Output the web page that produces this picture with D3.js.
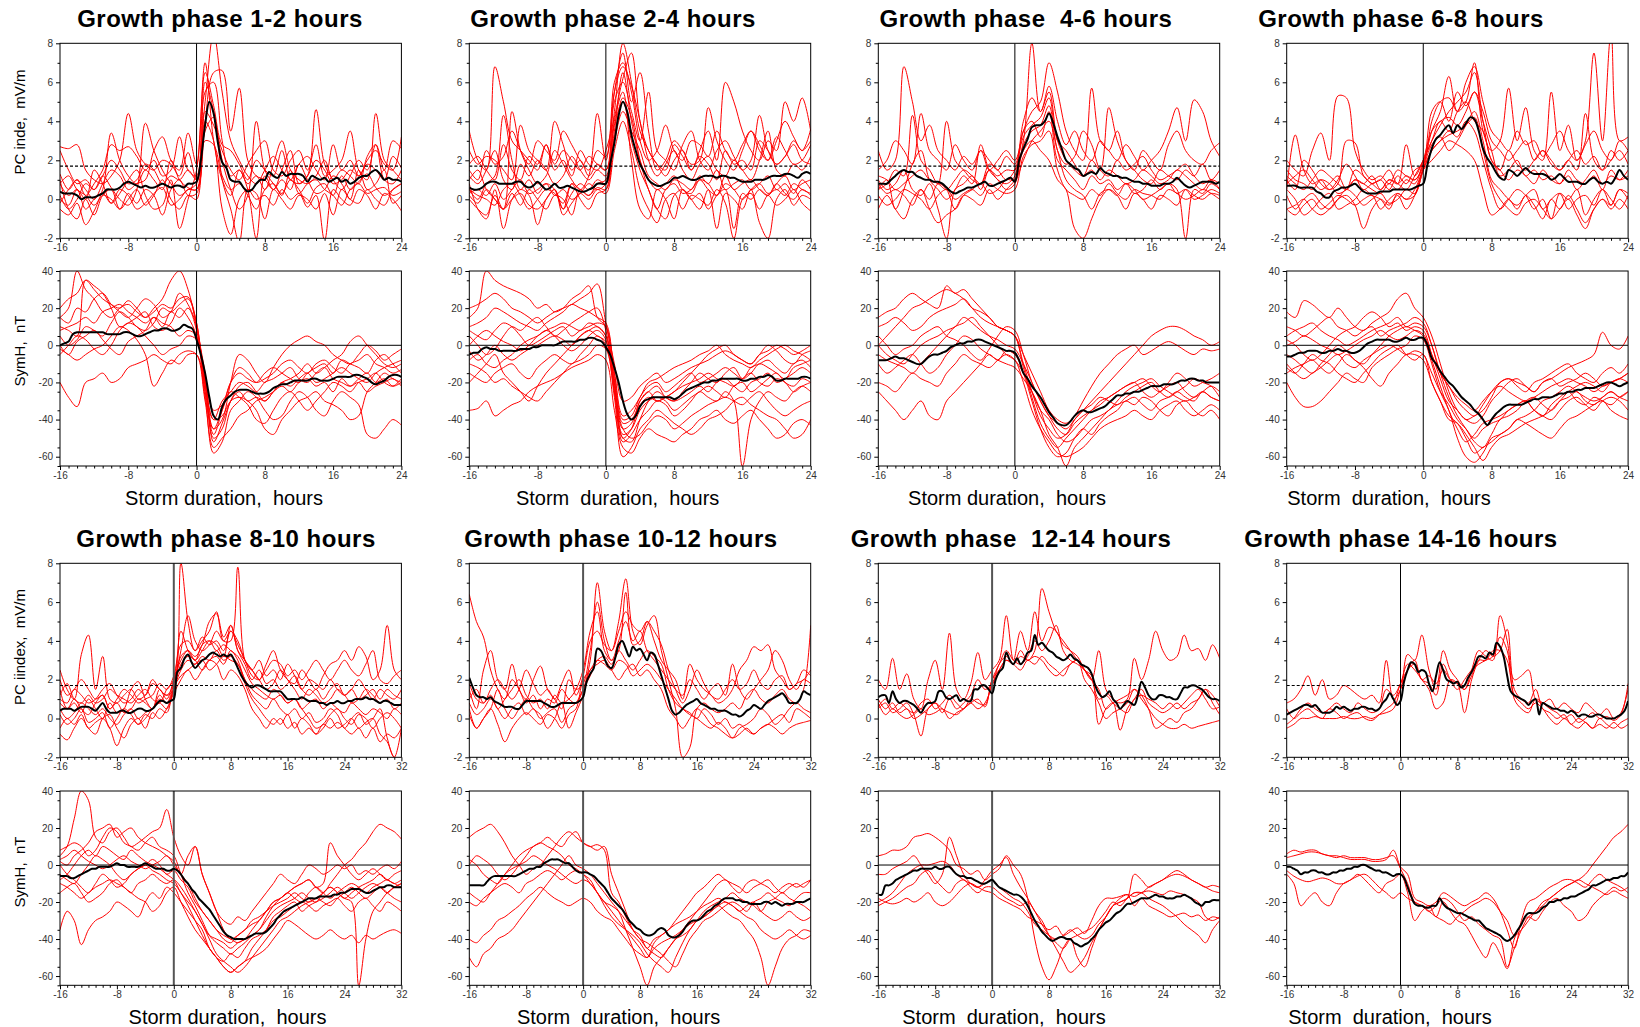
<!DOCTYPE html>
<html>
<head>
<meta charset="utf-8">
<script src="https://cdn.jsdelivr.net/npm/d3@7"></script>
<style>
  html, body { margin: 0; padding: 0; background: #fff; }
  svg { display: block; font-family: "Liberation Sans", Arial, sans-serif; }
</style>
</head>
<body>
<svg id="chart" width="1640" height="1027"></svg>
<script>
// ---------- axis ranges, ticks and labels ----------
const hoursShort = [-16, 24];
const hoursLong = [-16, 32];
const xTicksShort = [-16, -8, 0, 8, 16, 24];
const xTicksLong = [-16, -8, 0, 8, 16, 24, 32];
const pcDomain = [-2, 8];
const pcTicks = [-2, 0, 2, 4, 6, 8];
const symDomain = [-65, 40];
const symTicks = [-60, -40, -20, 0, 20, 40];
const pcThreshold = 1.7;

const titles = [
  "Growth phase 1-2 hours", "Growth phase 2-4 hours", "Growth phase  4-6 hours", "Growth phase 6-8 hours",
  "Growth phase 8-10 hours", "Growth phase 10-12 hours", "Growth phase  12-14 hours", "Growth phase 14-16 hours"
];
const xAxisTitles = [
  "Storm duration,  hours", "Storm  duration,  hours", "Storm duration,  hours", "Storm  duration,  hours",
  "Storm duration,  hours", "Storm  duration,  hours", "Storm  duration,  hours", "Storm  duration,  hours"
];
const pcAxisTitles = ["PC inde,  mV/m", "PC iindex,  mV/m"];
const symAxisTitle = "SymH,  nT";

// ---------- growth phase 1-2 h (hourly runs, half-hourly mean) ----------
const pcRuns1 = [
  [2.7,2.6,2.8,1.5,1.0,0.8,1.2,2.0,4.4,2.5,1.8,1.5,2.0,1.8,1.2,2.4,1.0,5.0,8.5,5.5,3.0,2.0,1.2,0.8,1.5,2.2,1.5,1.0,0.8,1.2,2.0,1.5,0.8,1.0,1.5,1.2,2.0,2.5,1.8,1.5,3.2],
  [0.8,1.2,0.5,0.2,-0.3,0.5,3.4,2.0,1.2,0.8,1.5,1.0,0.5,2.0,1.0,0.6,0.5,4.0,6.5,6.6,3.5,5.7,2.0,1.2,1.0,0.5,1.5,2.5,0.8,1.2,4.6,1.8,1.0,0.5,1.2,2.0,1.5,2.8,1.0,0.8,1.5],
  [0.2,-0.5,0.0,0.8,0.5,1.2,0.6,0.0,-0.3,0.5,3.9,2.5,1.5,0.8,0.2,0.5,0.8,6.0,4.5,2.0,0.5,-0.5,0.2,4.0,1.5,0.8,0.3,1.0,0.5,-0.2,0.6,0.8,0.2,1.2,0.5,0.9,1.3,0.6,0.2,0.5,0.8],
  [-0.5,-0.8,-0.2,-1.3,-0.6,0.2,0.0,-0.5,0.3,-0.2,0.5,0.2,-0.8,0.5,1.0,0.2,0.3,3.5,4.2,1.0,-0.5,-2.2,0.5,0.0,0.2,-0.3,0.5,0.0,0.3,-0.4,0.2,-2.1,0.5,0.0,-0.3,0.5,0.2,-0.5,0.3,0.0,-0.6],
  [1.3,0.5,1.0,0.2,0.8,1.5,2.8,2.5,2.7,2.2,1.5,2.0,1.2,1.5,3.2,1.5,1.2,4.5,3.8,2.5,1.5,1.0,1.8,2.5,3.0,1.5,1.2,2.0,2.5,1.5,2.8,1.2,1.5,2.0,3.5,1.5,1.0,4.4,2.0,1.5,1.0],
  [0.0,-0.3,0.5,-0.5,0.0,0.3,-0.2,0.5,0.2,-0.5,-0.2,0.3,0.6,-0.3,0.0,0.5,0.5,3.0,2.8,1.2,0.5,0.8,0.2,-0.5,0.5,0.8,0.2,1.5,0.3,0.8,1.0,0.5,0.2,-0.3,0.5,0.8,0.3,0.5,0.6,0.2,0.4],
  [0.8,0.2,0.5,0.0,1.5,0.8,-0.2,0.3,1.0,1.5,0.2,-0.5,-0.3,1.0,-1.5,0.0,1.5,7.0,3.0,1.0,0.2,1.5,0.5,-2.0,1.2,0.5,1.0,0.5,1.8,1.0,0.3,0.5,1.2,0.8,0.0,1.5,0.5,0.8,1.5,-0.2,0.2],
  [-0.2,0.5,1.0,0.5,0.0,0.8,1.5,1.2,0.5,0.8,1.0,2.5,3.2,2.0,1.5,3.4,1.8,6.5,4.8,2.8,2.5,1.8,1.0,2.0,1.5,1.2,2.5,1.0,1.8,2.2,1.5,1.0,2.8,1.5,2.0,1.2,1.8,1.5,1.0,2.2,1.6],
  [1.0,-0.5,-1.0,0.0,-0.8,0.2,0.5,-0.5,0.0,0.5,-0.3,0.2,1.0,0.0,-0.5,0.2,0.0,4.0,3.0,-0.5,-1.8,0.0,0.5,0.3,-1.0,0.5,0.0,-0.5,0.2,0.0,-0.5,0.3,-0.8,0.5,0.0,-0.2,0.5,0.0,-0.3,0.5,0.8],
  [2.5,1.5,0.8,1.0,0.5,1.2,2.0,1.5,0.8,1.0,1.8,1.5,0.8,1.2,1.0,1.5,1.0,5.5,6.0,3.0,1.2,1.5,0.8,1.2,0.5,1.8,3.0,1.5,1.0,0.8,1.2,2.0,1.0,1.5,1.2,0.8,2.2,2.8,1.5,3.0,2.6]
];
const pcMean1 = [0.4,0.3,0.3,0.3,0.2,0.0,0.1,0.1,0.1,0.2, 0.3,0.5,0.5,0.5,0.6,0.8,0.9,0.8,0.7,0.6, 0.7,0.6,0.6,0.7,0.8,0.7,0.6,0.7,0.7,0.6,
  0.8,0.8,0.9,2.0,3.8,5.0,4.4,2.9,1.9,1.6, 1.0,0.9,0.9,0.6,0.4,0.5,0.8,1.0,1.0,1.4, 1.2,1.1,1.4,1.2,1.3,1.3,1.3,1.2,0.9,1.2,
  1.1,1.0,1.1,0.9,1.0,1.1,0.9,1.0,0.8,0.9, 1.1,1.2,1.2,1.4,1.5,1.3,1.0,1.1,1.0,1.0, 0.9];
const symRuns1 = [
  [15,20,40,30,25,18,15,20,22,18,15,20,25,35,40,30,10,-15,-45,-40,-20,-5,-8,-15,-20,-12,-5,0,3,5,2,0,-5,-8,-10,-5,0,-3,-8,-5,-2],
  [-20,-28,-33,-20,-18,-15,-20,-18,-12,-10,-8,-5,-8,-10,-5,-3,-5,-30,-55,-50,-45,-38,-35,-30,-28,-25,-22,-25,-20,-18,-22,-20,-25,-18,-22,-20,-25,-22,-20,-18,-22],
  [10,8,5,35,32,28,20,10,12,15,18,10,8,12,20,15,5,-20,-50,-45,-30,-25,-30,-28,-30,-25,-20,-22,-18,-15,-20,-18,-15,-12,-15,-18,-20,-15,-12,-10,-8],
  [5,0,3,10,8,5,12,18,15,10,8,12,20,18,22,25,12,-25,-58,-52,-35,-30,-25,-28,-35,-40,-38,-30,-25,-28,-35,-38,-30,-25,-28,-32,-48,-50,-45,-40,-43],
  [-2,-5,-8,-5,-2,0,5,10,8,3,-5,-22,-15,-8,-10,-5,-5,-25,-48,-35,-20,-12,-15,-20,-18,-15,-10,-8,-12,-15,-10,-8,-12,-15,-10,-8,-5,-10,-12,-15,-13],
  [8,10,12,15,12,18,20,22,18,15,12,15,10,18,15,20,8,-20,-40,-38,-30,-28,-30,-35,-45,-48,-40,-35,-30,-28,-25,-30,-32,-35,-40,-38,-25,-20,-15,-18,-20],
  [0,-5,2,5,8,3,-2,-5,2,5,8,15,12,10,5,8,5,-18,-35,-32,-20,-15,-18,-20,-15,-12,-15,-18,-20,-15,-12,-10,-15,-8,-10,-12,-15,-8,-5,-10,-15],
  [15,12,20,18,25,28,22,18,15,20,25,22,15,18,28,22,10,-28,-45,-35,-25,-28,-32,-40,-42,-35,-28,-25,-30,-35,-30,-25,-20,-22,-25,-20,-18,-15,-20,-22,-18],
  [-5,0,5,3,-2,-5,0,8,12,10,5,0,-5,-2,0,5,3,-20,-52,-42,-30,-22,-20,-25,-30,-25,-20,-18,-15,-10,-15,-12,-8,-5,2,5,0,-5,-10,-12,-10],
  [20,25,28,35,30,25,22,20,24,20,15,18,22,20,25,26,12,-22,-40,-30,-25,-20,-22,-25,-20,-18,-15,-12,-18,-20,-15,-12,-18,-20,-22,-18,-15,-20,-18,-22,-20]
];
const symMean1 = [0,1,2,6,7,7,7,7,7,7, 7,6,6,6,6,7,7,6,5,5, 6,7,8,8,9,9,8,8,9,11,
  10,9,3,-5,-15,-28,-38,-40,-33,-29, -27,-25,-24,-24,-24,-25,-26,-26,-26,-25, -23,-22,-21,-21,-20,-19,-19,-19,-19,-18,
  -18,-19,-19,-19,-18,-17,-17,-17,-17,-16, -16,-17,-18,-20,-21,-20,-19,-17,-16,-16, -17];

// ---------- growth phase 2-4 h ----------
const pcRuns2 = [
  [3.5,2.0,1.5,6.8,5.0,3.0,2.5,2.0,1.5,2.8,1.8,2.5,2.0,1.5,2.2,1.8,1.5,4.5,8.0,6.0,3.5,2.5,1.8,1.5,2.8,2.2,1.5,2.5,3.5,2.0,6.0,5.0,3.5,2.5,2.0,3.0,2.5,5.0,4.0,5.2,3.5],
  [0.5,0.0,0.8,1.2,4.3,2.0,0.5,1.0,0.3,0.8,0.5,-0.5,0.3,0.8,0.5,1.0,0.8,3.5,6.5,4.0,2.0,1.0,0.5,0.8,1.2,0.5,0.3,1.0,0.8,0.2,1.2,0.5,0.8,1.0,0.5,0.2,0.8,1.2,0.5,0.8,1.0],
  [1.0,1.5,0.5,0.0,-0.5,4.5,2.5,1.5,0.8,1.2,2.5,1.8,1.0,0.5,1.2,4.4,2.0,5.5,7.5,5.0,6.5,3.5,1.5,2.0,3.0,2.5,1.8,2.0,4.7,3.0,2.0,1.5,2.5,3.5,2.8,2.0,3.2,2.5,1.8,2.0,2.8],
  [0.0,-0.5,-0.8,0.2,-0.5,0.0,0.3,-0.3,-0.5,0.0,0.5,-0.8,-0.2,0.3,0.0,0.5,0.3,2.5,4.0,2.5,0.5,-0.5,-1.2,0.0,0.3,-0.5,0.2,0.0,-0.3,0.5,-0.2,-2.0,0.0,0.3,-0.5,0.2,-0.3,0.0,0.5,-0.2,-0.6],
  [2.5,1.8,2.2,2.0,1.5,1.0,3.8,2.5,2.0,1.5,4.0,2.8,1.5,2.0,1.2,1.8,1.5,5.0,6.0,4.5,3.0,5.5,2.5,2.0,1.5,2.8,3.5,2.0,1.5,2.5,3.0,2.2,1.5,2.0,4.3,2.5,1.8,2.2,3.0,2.5,3.6],
  [0.5,0.2,0.0,-0.3,0.5,0.8,0.2,-0.5,0.0,0.5,0.3,-0.2,0.8,0.5,0.2,0.8,1.0,3.8,5.0,3.0,1.5,0.5,-0.5,0.5,0.8,0.3,0.5,1.0,0.5,0.2,0.8,0.5,0.0,0.5,0.8,0.3,0.5,0.2,0.8,0.5,0.3],
  [1.5,1.0,2.5,1.8,2.2,3.5,2.5,1.8,3.0,2.5,2.0,3.5,2.8,2.0,1.5,2.5,2.2,6.0,7.0,5.5,3.0,2.0,2.5,3.8,2.5,2.0,3.0,2.8,2.2,3.5,2.5,2.0,2.8,3.5,2.5,2.0,3.0,4.0,3.2,2.5,3.0],
  [0.8,-0.5,-1.0,0.5,-1.5,0.0,0.5,0.2,-1.3,0.0,0.5,-0.5,0.8,0.0,-0.5,0.3,0.5,4.0,5.5,2.0,-0.5,-1.0,0.5,0.0,-1.0,0.5,0.0,-0.5,0.5,-1.5,0.3,0.0,-0.5,0.5,-1.2,-2.0,0.0,0.5,-0.3,0.2,0.0],
  [1.2,0.8,1.5,2.5,1.0,0.5,1.8,1.2,2.0,1.5,0.8,1.2,2.2,1.5,1.0,1.5,1.2,5.5,6.8,5.8,4.0,2.0,1.2,1.8,2.5,1.5,1.0,1.8,2.2,1.5,1.2,2.0,1.5,1.0,2.0,3.5,1.5,1.2,1.8,1.5,2.2],
  [0.3,0.5,0.2,0.8,0.0,0.5,1.0,0.3,0.5,0.8,0.2,0.5,0.0,0.3,0.8,0.5,0.8,3.0,4.5,3.5,2.5,1.2,0.8,0.5,1.0,0.8,0.5,1.2,0.8,1.5,0.5,0.8,1.0,0.5,0.8,1.2,0.5,0.8,0.3,1.0,0.5],
  [1.8,2.2,1.5,1.0,2.8,1.5,1.0,2.2,1.8,2.8,1.5,2.0,1.2,2.5,1.8,1.5,2.5,4.2,6.2,7.5,4.0,2.5,1.8,1.2,2.0,2.5,1.5,2.2,1.8,1.0,2.5,1.8,2.0,1.5,3.0,2.5,1.8,2.2,2.8,2.0,1.8],
  [0.2,-0.2,0.5,0.0,-0.5,0.3,-0.3,0.5,0.0,-0.5,0.2,0.0,-0.8,0.5,0.2,0.6,0.5,3.2,5.2,4.2,2.0,0.5,-0.5,-1.0,0.2,0.5,0.0,0.3,-0.5,0.2,0.5,-1.5,0.3,0.0,0.5,0.2,0.8,0.3,0.0,0.5,0.2]
];
const pcMean2 = [0.6,0.5,0.5,0.6,0.8,0.9,0.9,0.8,0.8,0.8, 0.8,0.9,0.9,0.7,0.6,0.7,0.9,0.7,0.5,0.6, 0.8,0.6,0.6,0.7,0.6,0.5,0.4,0.4,0.5,0.6,
  0.8,0.8,0.8,1.8,2.9,4.3,5.0,4.5,3.3,2.5, 1.8,1.4,1.0,0.8,0.7,0.7,0.8,0.9,1.1,1.1, 1.2,1.1,1.0,1.0,1.1,1.2,1.2,1.2,1.1,1.2,
  1.2,1.1,1.1,1.0,0.9,0.9,0.9,1.0,1.0,1.0, 1.1,1.2,1.2,1.2,1.3,1.3,1.2,1.1,1.3,1.4, 1.3];
const symRuns2 = [
  [15,20,40,35,32,30,28,25,20,22,18,20,25,28,32,15,10,-25,-50,-45,-30,-25,-30,-28,-25,-20,-15,-10,-5,-2,0,-5,-8,-10,-5,0,-3,-8,-10,-5,-3],
  [-35,-34,-30,-38,-35,-32,-30,-25,-22,-20,-18,-15,-12,-10,-8,-5,-8,-35,-55,-58,-50,-45,-48,-50,-52,-48,-45,-40,-38,-35,-40,-42,-38,-35,-40,-45,-50,-48,-42,-40,-43],
  [5,0,-5,-2,5,10,8,12,15,10,5,8,12,15,18,20,8,-20,-45,-42,-30,-25,-22,-28,-30,-25,-20,-15,-18,-20,-15,-12,-18,-15,-10,-12,-15,-18,-12,-10,-8],
  [-20,-15,-10,-5,-15,-20,-25,-30,-22,-15,-10,-5,0,5,8,10,5,-25,-52,-48,-40,-35,-30,-32,-38,-35,-30,-25,-28,-30,-25,-30,-65,-40,-30,-25,-28,-30,-25,-22,-25],
  [0,5,8,5,2,0,-3,0,5,8,10,12,10,8,12,10,5,-15,-38,-35,-28,-20,-18,-15,-12,-10,-8,-5,-3,0,-5,-8,-10,-12,-8,-5,-2,0,-3,-5,-8],
  [-15,-18,-20,-15,-12,-10,-15,-18,-12,-8,-5,-8,-10,-5,0,5,0,-28,-60,-55,-45,-40,-35,-38,-42,-45,-48,-45,-40,-38,-35,-30,-28,-32,-35,-38,-40,-45,-50,-48,-40],
  [10,12,15,20,18,15,12,10,8,12,15,18,22,20,18,15,12,-15,-40,-38,-28,-22,-20,-25,-22,-18,-15,-20,-18,-15,-12,-15,-18,-12,-10,-8,-12,-15,-10,-8,-12],
  [-8,-5,-10,-12,-8,-5,0,3,5,8,5,0,-3,0,5,8,3,-22,-48,-45,-35,-30,-28,-30,-35,-32,-28,-25,-22,-25,-28,-22,-20,-25,-22,-18,-15,-20,-22,-18,-20],
  [20,22,25,28,25,20,18,15,12,15,18,20,22,25,28,33,12,-10,-30,-28,-22,-18,-15,-20,-18,-15,-12,-10,-8,-5,-3,-5,-8,-10,-5,-3,0,-2,-5,-3,0],
  [-3,-8,-5,0,-5,-8,-5,-2,0,3,5,3,0,5,8,5,2,-20,-42,-40,-32,-28,-30,-28,-25,-22,-20,-18,-15,-18,-20,-22,-18,-15,-20,-22,-18,-20,-25,-22,-20],
  [8,5,3,8,12,10,5,0,2,5,8,10,5,8,10,12,10,-18,-50,-52,-40,-30,-25,-28,-30,-28,-25,-22,-25,-20,-18,-22,-25,-20,-18,-15,-20,-18,-15,-12,-15],
  [-10,-12,-15,-20,-18,-22,-25,-28,-30,-25,-20,-15,-10,-8,-5,0,-2,-25,-45,-50,-48,-42,-38,-40,-45,-42,-38,-35,-32,-30,-28,-30,-32,-28,-25,-30,-35,-38,-35,-32,-30]
];
const symMean2 = [-5,-4,-4,-2,-1,-2,-2,-3,-3,-3, -3,-3,-2,-2,-2,-1,-1,0,0,0, 0,1,2,2,2,2,3,3,4,4,
  3,2,-1,-5,-12,-20,-30,-37,-40,-38, -33,-30,-29,-28,-28,-28,-28,-28,-29,-28, -26,-24,-23,-22,-21,-20,-20,-19,-19,-18,
  -18,-18,-18,-18,-19,-19,-18,-18,-17,-17, -16,-17,-19,-19,-18,-18,-18,-18,-17,-17, -18];

// ---------- growth phase 4-6 h ----------
const pcRuns3 = [
  [2.5,1.5,2.0,6.8,5.0,3.0,3.8,2.5,2.0,1.5,2.2,1.8,2.5,1.5,2.0,2.5,2.0,3.5,4.5,5.0,7.0,5.5,3.5,2.5,2.0,5.7,3.0,2.5,2.0,2.8,2.2,1.5,2.0,2.5,3.5,4.7,3.0,5.1,4.5,3.0,2.2],
  [0.5,0.8,1.5,1.2,4.3,2.0,1.5,0.8,4.0,2.0,1.5,1.0,0.8,1.5,1.2,1.5,1.5,3.0,8.0,4.5,5.5,3.0,2.0,1.5,1.2,2.0,1.5,4.7,3.0,2.0,1.5,1.0,0.8,1.5,1.2,1.0,1.5,1.2,1.8,1.0,1.5],
  [-0.5,0.2,-0.5,-1.0,0.0,0.5,-0.5,-1.2,-0.8,-0.5,0.2,0.0,-0.3,0.5,0.0,0.5,1.0,2.5,3.0,2.5,2.0,1.0,0.5,-1.5,-2.0,-1.0,0.0,0.5,0.2,-0.5,0.3,0.0,-0.5,0.2,0.0,-0.3,0.5,0.2,0.0,0.3,0.2],
  [1.0,0.5,0.8,1.5,0.5,0.2,0.8,-0.5,-2.0,0.5,0.8,1.2,0.5,1.5,1.0,0.8,1.2,3.5,4.0,3.2,4.5,2.0,1.5,1.0,0.5,1.2,0.8,1.0,0.5,0.8,0.3,0.5,1.0,0.5,0.8,0.5,-2.0,0.5,0.3,0.8,0.5],
  [1.5,2.0,3.0,2.5,1.8,4.4,2.5,2.0,1.5,2.8,2.0,1.5,2.5,2.0,1.5,2.2,1.8,4.0,5.2,4.5,5.8,4.0,2.8,3.5,2.5,2.0,3.0,2.5,3.5,2.0,1.5,2.5,2.0,1.5,2.8,3.5,2.5,2.0,1.8,2.5,2.9],
  [0.2,-0.3,0.0,0.5,0.3,0.0,-0.5,0.2,0.5,0.0,0.3,0.5,0.2,0.8,0.5,0.3,0.5,2.2,2.8,3.0,3.5,1.5,0.5,0.2,0.0,0.5,0.2,0.8,0.3,0.0,0.5,0.3,0.2,0.0,0.5,0.3,0.0,0.2,0.5,0.3,0.0],
  [1.2,1.0,0.5,0.8,1.2,1.5,1.0,0.8,0.5,1.0,1.5,1.2,0.8,1.8,1.5,1.0,1.5,3.2,3.8,4.2,5.2,3.0,2.5,1.8,1.2,1.5,1.0,1.5,1.2,0.8,1.0,1.5,1.2,0.8,1.0,1.5,1.2,0.8,0.5,1.0,0.8],
  [0.5,1.0,-0.5,0.5,1.8,2.5,1.0,0.5,0.0,0.5,1.2,0.8,2.8,1.5,1.0,0.5,0.8,2.8,3.5,3.8,4.8,2.5,1.8,2.2,3.5,2.8,1.5,1.2,2.0,1.5,1.8,2.2,1.5,1.0,1.2,1.5,1.8,1.2,0.8,1.0,0.5],
  [0.8,0.3,0.5,0.2,-0.3,0.5,0.0,0.8,0.5,-0.5,0.2,0.5,0.8,0.3,0.5,1.0,1.0,2.0,3.0,3.5,4.0,2.5,1.0,0.5,0.2,-0.5,0.3,0.5,0.2,0.8,0.5,0.0,0.2,0.5,0.8,0.3,0.5,0.0,0.2,0.5,0.3]
];
const pcMean3 = [0.8,0.8,0.8,1.0,1.2,1.4,1.5,1.4,1.4,1.2, 1.1,1.0,1.0,0.9,0.9,0.8,0.6,0.4,0.3,0.4, 0.5,0.6,0.6,0.7,0.8,0.9,0.7,0.7,0.8,0.9,
  1.0,1.1,0.9,2.0,2.6,3.1,3.7,3.8,3.8,4.0, 4.4,3.9,3.2,2.6,2.0,1.8,1.6,1.5,1.2,1.3, 1.4,1.3,1.6,1.4,1.3,1.2,1.2,1.1,1.1,1.0,
  0.9,0.9,0.8,0.8,0.7,0.7,0.7,0.8,0.8,0.9, 1.1,0.9,0.7,0.6,0.7,0.8,0.9,0.9,0.9,0.8, 0.9];
const symRuns3 = [
  [15,18,20,25,28,25,22,20,32,28,30,25,20,15,10,8,5,-10,-25,-38,-45,-50,-48,-40,-35,-30,-25,-20,-15,-10,-5,0,5,8,10,10,8,5,3,0,2],
  [-25,-30,-35,-40,-35,-30,-38,-40,-30,-25,-20,-15,-10,-5,-8,-3,-5,-15,-30,-45,-55,-60,-58,-50,-45,-48,-42,-38,-35,-30,-32,-28,-30,-35,-38,-32,-30,-35,-38,-35,-40],
  [0,5,10,15,20,22,25,28,30,28,25,20,18,15,10,8,5,-12,-28,-42,-50,-55,-50,-45,-40,-35,-32,-28,-25,-22,-20,-18,-22,-25,-20,-15,-18,-22,-20,-18,-15],
  [-10,-15,-12,-8,-5,-10,-15,-12,-5,0,5,3,-2,-5,-8,-10,-12,-18,-25,-35,-48,-55,-65,-55,-50,-45,-40,-35,-32,-30,-28,-32,-35,-30,-28,-25,-28,-30,-25,-28,-30],
  [10,12,15,12,8,10,15,18,20,22,25,20,15,12,10,8,5,-5,-15,-25,-35,-40,-42,-38,-30,-22,-15,-10,-5,-2,0,-5,-3,0,2,0,-3,-5,-2,-3,-2],
  [-20,-22,-25,-20,-15,-18,-20,-22,-15,-10,-5,-8,-10,-12,-8,-5,-8,-20,-35,-45,-52,-58,-60,-58,-55,-50,-45,-42,-40,-38,-35,-38,-40,-35,-32,-30,-35,-38,-35,-32,-35],
  [5,0,-5,-2,0,5,8,10,5,3,0,-5,-8,-2,5,10,8,-5,-20,-30,-38,-45,-48,-42,-38,-35,-30,-28,-25,-22,-20,-25,-28,-25,-22,-20,-25,-28,-25,-22,-25],
  [-5,-8,-10,-12,-15,-10,-5,0,5,10,12,15,10,5,0,-5,-8,-15,-25,-35,-40,-48,-52,-50,-45,-40,-38,-35,-30,-25,-22,-20,-18,-22,-25,-28,-30,-28,-25,-28,-30],
  [0,-5,-8,-10,-5,0,3,5,8,10,15,12,8,5,3,0,-2,-10,-20,-30,-38,-42,-45,-40,-35,-32,-28,-30,-32,-28,-25,-22,-20,-25,-28,-25,-22,-18,-20,-22,-28]
];
const symMean3 = [-8,-8,-8,-7,-6,-7,-7,-8,-9,-10, -10,-8,-6,-5,-5,-4,-3,-1,0,1, 1,2,2,3,3,2,1,0,-1,-2,
  -3,-3,-4,-8,-15,-18,-22,-25,-28,-32, -36,-39,-42,-43,-43,-41,-38,-36,-35,-36, -36,-35,-34,-33,-31,-29,-27,-27,-26,-26,
  -25,-25,-24,-23,-22,-22,-22,-21,-21,-21, -20,-19,-19,-18,-18,-19,-19,-20,-20,-20, -20];

// ---------- growth phase 6-8 h ----------
const pcRuns4 = [
  [2.0,1.5,1.2,2.5,3.4,2.0,5.3,5.2,2.5,1.5,1.0,1.2,0.8,1.5,1.2,1.0,1.8,3.5,4.5,6.3,4.5,5.0,7.0,3.5,2.5,3.0,5.7,3.0,4.7,2.5,2.0,5.5,2.5,3.8,2.0,3.0,7.5,3.0,8.5,3.0,3.2],
  [0.5,3.3,1.5,0.8,1.0,0.5,0.8,3.0,2.9,1.2,0.8,0.5,1.0,0.8,2.8,1.2,2.0,3.0,3.8,4.5,5.0,5.5,6.5,4.0,2.0,1.5,2.5,1.8,1.5,2.0,2.5,1.8,1.5,2.0,1.5,4.4,2.0,1.5,2.5,2.0,2.5],
  [-0.5,-0.3,0.0,-0.5,-0.8,-0.5,0.0,0.2,-0.3,-1.5,-0.5,0.0,-0.3,0.2,-0.5,0.2,1.5,2.0,2.5,3.0,2.8,2.5,2.0,0.5,-0.8,-0.5,0.0,-0.5,0.2,-0.3,-1.0,0.0,-0.5,0.2,-0.5,-1.2,-0.5,0.0,-0.3,0.5,0.3],
  [1.5,1.0,0.8,0.5,1.0,0.8,0.3,0.5,1.0,0.8,0.5,0.3,0.8,0.5,1.0,0.8,2.0,3.5,4.0,4.2,3.8,4.5,5.5,4.0,2.5,1.2,1.5,2.0,1.2,1.5,1.0,1.2,0.8,1.5,1.0,0.8,1.2,0.5,1.5,1.0,1.2],
  [0.2,-0.5,0.0,0.3,-0.2,-0.5,0.0,0.5,0.2,-0.3,0.0,0.3,-0.2,0.0,0.5,0.3,1.5,2.5,3.0,3.5,3.2,4.0,3.5,2.0,0.5,-0.5,0.0,0.5,0.2,-0.5,0.0,-1.0,0.3,0.0,0.5,-0.8,0.0,0.5,-0.3,0.5,0.0],
  [0.8,1.2,1.5,1.0,0.5,0.8,1.2,0.5,1.5,1.2,0.8,1.0,0.5,1.2,0.8,1.5,1.8,4.0,5.0,5.2,4.5,6.0,6.8,5.0,3.5,3.0,2.5,3.5,2.8,3.0,2.2,2.8,3.5,2.5,2.0,2.8,3.5,2.5,2.0,3.0,2.5],
  [0.5,0.0,-0.8,-0.5,0.0,0.3,-0.5,-0.3,0.0,0.5,0.2,0.0,-0.5,0.3,0.0,0.5,1.6,2.8,3.2,2.5,3.0,3.8,4.5,3.0,1.0,0.5,0.0,-0.3,0.2,0.5,-0.5,0.0,0.3,-0.5,0.0,0.2,-0.3,0.5,0.0,-0.5,0.2],
  [1.0,0.5,2.0,1.5,0.8,0.5,1.0,1.8,1.2,0.5,0.8,1.0,1.5,0.8,1.2,1.0,1.7,4.5,5.0,4.0,5.5,4.8,5.5,4.5,3.0,2.5,2.0,2.5,3.0,2.0,2.5,2.0,1.5,2.0,2.5,1.8,2.2,1.5,2.0,2.5,1.8],
  [-0.5,-0.8,-0.3,0.0,-0.5,-0.2,0.2,0.0,-0.3,0.0,0.2,-0.5,0.0,0.3,0.0,0.2,1.5,2.5,3.0,3.3,3.5,3.8,4.2,2.5,0.8,0.0,-0.5,-0.8,-0.2,0.0,-0.5,-1.0,-0.5,0.0,-0.8,-1.5,-0.5,0.0,-0.5,0.0,-0.5],
  [1.2,0.8,0.5,1.0,1.5,1.2,0.8,0.5,1.0,0.8,1.2,0.5,1.0,0.8,0.5,1.2,2.0,3.0,4.0,3.5,4.5,5.0,4.0,3.5,2.0,1.5,1.0,1.5,1.2,0.8,1.5,1.0,0.8,1.2,0.5,1.0,1.5,0.8,1.2,1.0,1.5]
];
const pcMean4 = [0.7,0.7,0.7,0.6,0.6,0.6,0.6,0.4,0.3,0.1, 0.1,0.4,0.5,0.6,0.6,0.7,0.8,0.6,0.4,0.3, 0.3,0.3,0.4,0.4,0.4,0.5,0.5,0.5,0.5,0.5,
  0.6,0.7,0.8,1.8,2.6,3.1,3.3,3.6,3.8,3.4, 3.8,3.6,3.9,4.2,4.1,3.5,2.6,2.1,1.8,1.4, 1.1,1.0,1.5,1.4,1.2,1.4,1.6,1.4,1.3,1.3,
  1.3,1.2,1.0,1.1,1.3,1.1,0.9,0.9,0.9,0.8, 0.8,1.0,1.1,0.9,0.8,0.9,0.8,1.1,1.5,1.2, 1.0];
const symRuns4 = [
  [18,15,24,22,18,15,20,15,10,8,12,15,18,25,28,20,15,5,-10,-25,-35,-40,-42,-38,-30,-25,-20,-18,-22,-25,-20,-18,-15,-12,-10,-8,-5,7,0,-2,5],
  [-20,-28,-33,-33,-30,-25,-20,-15,-18,-20,-12,-8,-5,-2,0,5,3,-10,-25,-35,-50,-60,-63,-58,-50,-48,-45,-40,-42,-45,-48,-50,-45,-40,-38,-35,-32,-30,-35,-38,-40],
  [5,8,10,12,8,5,3,0,2,5,8,10,12,15,10,12,10,0,-15,-28,-38,-45,-52,-55,-48,-40,-38,-35,-30,-28,-32,-35,-30,-25,-22,-20,-22,-25,-20,-18,-15],
  [-12,-15,-10,-5,-8,-10,-15,-18,-20,-15,-10,-5,-2,0,-5,-8,-5,-20,-30,-40,-42,-48,-55,-62,-55,-50,-48,-45,-42,-40,-38,-35,-30,-28,-25,-30,-32,-28,-25,-28,-30],
  [3,0,-5,-8,-5,0,5,8,10,15,18,15,10,12,8,10,8,-5,-18,-30,-35,-40,-38,-35,-28,-20,-18,-22,-25,-20,-18,-15,-12,-10,-15,-18,-20,-15,-12,-15,-10],
  [-5,-8,-12,-15,-10,-5,0,-3,-8,-10,-5,0,5,8,10,8,5,-8,-22,-35,-45,-52,-48,-42,-40,-38,-35,-32,-30,-35,-38,-40,-35,-30,-28,-32,-35,-30,-28,-30,-35],
  [10,8,5,8,12,15,10,8,5,8,10,5,8,10,12,15,12,0,-15,-22,-30,-35,-38,-32,-25,-20,-18,-20,-22,-25,-20,-18,-22,-20,-18,-15,-18,-22,-20,-18,-20],
  [-15,-12,-10,-8,-12,-15,-10,-5,-8,-12,-18,-22,-15,-10,-5,-5,-8,-20,-30,-38,-42,-50,-58,-55,-52,-48,-45,-40,-38,-35,-30,-28,-25,-22,-25,-28,-30,-28,-25,-28,-25],
  [0,2,5,3,0,-2,-5,-3,0,3,5,8,5,3,5,8,6,-5,-15,-22,-28,-32,-35,-30,-25,-22,-25,-28,-30,-28,-25,-22,-20,-18,-20,-22,-25,-22,-20,-18,-15],
  [-10,-15,-18,-15,-12,-8,-5,-10,-12,-8,-5,-2,0,-2,-5,-3,-5,-15,-25,-32,-40,-45,-50,-45,-42,-40,-35,-32,-30,-35,-38,-32,-28,-25,-30,-32,-28,-30,-32,-28,-25]
];
const symMean4 = [-6,-6,-5,-4,-4,-3,-3,-3,-4,-4, -3,-3,-2,-3,-3,-4,-4,-3,-1,1, 2,3,3,3,3,2,2,3,4,3,
  3,4,4,0,-7,-10,-14,-17,-20,-22, -25,-28,-30,-32,-35,-37,-40,-43,-40,-37, -35,-33,-32,-32,-32,-32,-31,-30,-29,-29,
  -28,-28,-28,-27,-26,-26,-25,-25,-24,-24, -23,-23,-23,-22,-21,-20,-20,-21,-22,-21, -20];

// ---------- growth phase 8-10 h ----------
const pcRuns5 = [
  [2.5,1.5,1.0,3.3,4.3,1.5,3.2,1.0,0.8,1.2,1.5,1.0,1.2,2.0,1.5,1.2,1.5,8.0,5.0,3.5,4.0,4.5,5.5,4.0,4.0,7.8,3.0,2.5,2.0,2.8,3.5,2.5,2.0,1.8,2.5,2.0,1.5,2.2,2.8,3.0,3.5,3.0,3.7,3.2,2.0,2.5,4.8,2.5,2.0],
  [-0.8,-1.1,-0.5,0.0,-0.5,-0.8,0.0,0.2,-0.5,-1.0,-0.3,0.0,-0.5,0.3,0.0,0.5,1.3,2.0,2.5,2.0,2.5,3.0,2.8,2.0,2.5,2.2,1.5,0.5,0.0,-0.5,0.0,-0.3,0.2,-0.5,0.0,-0.3,-0.8,-0.5,0.0,-0.5,-0.3,0.0,-0.5,-0.2,0.0,-0.8,-1.2,-2.0,-0.5],
  [1.0,0.8,1.5,1.2,0.8,1.0,1.5,1.8,1.2,0.8,1.0,1.5,1.2,1.8,1.5,1.2,1.8,3.5,5.3,4.0,3.5,3.8,4.5,4.0,4.5,4.0,3.0,2.5,3.0,2.2,2.5,2.0,2.8,2.2,1.5,2.0,1.8,1.5,2.0,1.5,1.2,1.5,2.0,1.5,1.0,1.5,1.2,1.0,1.5],
  [0.2,-0.3,0.0,0.5,-0.2,0.0,0.3,-0.5,0.0,0.5,0.2,-0.3,0.0,0.5,0.8,0.5,1.5,2.5,3.0,2.8,3.2,3.0,3.5,3.0,3.2,2.8,2.0,1.2,0.8,0.5,1.0,0.5,0.2,0.5,0.0,0.3,-0.2,0.0,0.5,0.2,-0.5,0.0,0.3,-0.3,0.0,0.5,-1.0,-2.0,-2.0],
  [1.5,0.5,0.8,0.3,1.0,0.5,0.0,0.8,0.3,0.5,1.5,1.9,1.0,0.5,1.5,1.0,2.0,3.0,3.5,3.2,3.8,5.0,5.4,4.2,4.8,3.5,3.0,2.5,2.0,1.5,1.8,2.5,2.0,1.5,1.0,1.5,1.2,0.8,1.0,1.5,1.2,0.8,1.0,1.5,1.2,0.8,1.0,0.5,0.8],
  [0.5,0.0,0.3,0.8,0.5,0.2,0.5,0.0,-0.3,0.2,0.5,0.0,0.3,0.5,1.0,0.8,1.5,2.8,3.2,3.0,2.5,3.0,3.2,2.8,3.5,3.0,2.0,1.5,1.2,1.0,1.5,1.2,0.8,1.0,0.5,0.0,-0.5,-0.3,0.2,0.5,0.0,-0.3,0.2,0.0,-0.5,0.0,0.3,0.0,-0.5],
  [2.0,1.2,1.5,2.0,1.5,1.0,1.2,0.5,1.0,1.5,1.2,0.8,1.0,1.2,1.8,1.5,2.2,3.8,4.0,3.5,4.2,3.8,4.0,3.5,4.5,3.8,3.0,2.2,2.0,2.5,3.0,2.8,2.2,2.5,2.0,2.5,3.0,2.5,2.0,2.5,3.0,2.5,2.2,2.8,3.5,2.0,1.8,2.2,2.5],
  [-0.5,0.0,-0.3,0.2,-0.5,-0.2,0.0,-0.5,-1.4,-0.5,0.0,-0.3,0.2,0.0,0.5,0.3,1.6,2.2,2.5,2.8,3.0,2.5,2.8,3.2,3.0,2.8,1.8,1.0,0.5,0.0,-0.3,0.0,-0.5,-0.2,-0.8,-0.5,-0.8,-0.3,-0.5,-0.2,-0.5,-0.8,-0.5,-1.0,-0.5,-1.2,-0.8,-1.0,-0.5],
  [0.8,0.5,1.0,0.5,0.2,0.8,1.2,0.5,0.8,0.3,0.5,1.0,0.8,0.5,1.2,0.8,1.8,3.2,3.5,3.0,3.8,4.0,3.5,3.8,3.5,3.2,2.5,1.8,1.5,1.2,1.0,1.2,0.8,1.0,0.5,0.8,1.0,0.5,0.8,0.5,0.3,0.8,0.5,0.2,0.5,0.3,0.0,0.5,0.2],
  [1.2,1.8,1.0,0.8,1.2,0.8,1.0,1.5,1.2,1.0,0.8,1.2,1.5,1.0,0.8,1.5,2.0,4.5,3.5,3.0,3.5,4.0,3.8,3.2,4.8,3.5,2.8,2.0,2.5,1.8,2.0,1.5,1.8,2.2,1.5,1.2,1.5,1.0,1.5,1.8,1.2,1.5,1.0,1.2,1.5,1.0,1.5,1.2,1.0]
];
const pcMean5 = [0.4,0.5,0.5,0.5,0.4,0.5,0.6,0.6,0.6,0.5, 0.4,0.6,0.8,0.5,0.3,0.3,0.3,0.4,0.4,0.3, 0.3,0.4,0.5,0.5,0.4,0.4,0.5,0.7,0.9,0.9,
  0.8,0.9,1.0,2.4,2.6,3.1,3.3,2.9,2.6,2.8, 3.0,3.1,3.3,3.4,3.3,3.2,3.3,3.2,3.3,3.0, 2.6,2.2,1.9,1.7,1.6,1.7,1.7,1.6,1.5,1.4,
  1.4,1.4,1.4,1.2,1.0,1.0,1.0,1.0,1.1,1.0, 0.9,0.9,0.9,0.8,0.8,0.7,0.8,0.8,0.9,0.8, 0.8,0.9,0.9,1.0,1.0,1.0,1.1,1.0,1.0,0.9,
  0.8,0.9,0.9,0.8,0.7,0.7, 0.7];
const symRuns5 = [
  [5,10,25,40,35,15,12,18,20,15,10,12,15,18,20,30,15,5,0,10,-5,-15,-25,-30,-32,-28,-30,-25,-20,-15,-10,-5,-8,-10,-5,0,-2,-5,-3,0,-2,0,-5,-3,-5,-2,0,-2,2],
  [-35,-25,-30,-43,-35,-30,-28,-25,-20,-22,-25,-28,-20,-15,-18,-12,-15,-20,-25,-30,-35,-45,-50,-55,-58,-55,-52,-50,-48,-45,-40,-35,-30,-32,-35,-38,-40,-38,-35,-38,-40,-38,-42,-38,-40,-38,-36,-35,-37],
  [8,10,12,10,5,8,15,20,18,12,10,8,12,15,10,8,5,-5,-15,-22,-30,-38,-42,-45,-48,-45,-42,-38,-35,-28,-22,-18,-15,-12,-10,-8,-12,-15,-10,-5,0,3,8,12,18,22,20,18,14],
  [-5,-8,-10,-5,0,5,3,0,-5,-8,-5,-2,0,-3,-5,-8,-10,-15,-22,-30,-38,-45,-50,-55,-58,-55,-52,-45,-40,-35,-28,-25,-22,-20,-25,-22,-20,-18,-15,-12,-15,-18,-15,-12,-10,-12,-15,-12,-10],
  [0,-5,-8,-12,-15,-10,-5,-8,-12,-10,-5,-2,0,3,0,-5,-3,-8,-12,-20,-25,-30,-35,-38,-40,-42,-40,-38,-35,-30,-25,-22,-20,-18,-15,-18,-20,-15,-12,-15,-18,-20,-65,-40,-25,-20,-15,-12,-10],
  [-15,-12,-10,-15,-20,-18,-15,-10,-8,-12,-15,-18,-20,-25,-22,-15,-12,-20,-28,-35,-40,-45,-50,-52,-48,-50,-45,-40,-38,-35,-30,-28,-25,-22,-20,-22,-25,-22,-20,-18,-22,-25,-20,-18,-22,-25,-20,-22,-25],
  [-8,-5,0,5,8,5,10,8,5,3,8,5,2,0,-2,-5,-8,-15,-20,-25,-32,-38,-40,-42,-45,-42,-40,-35,-30,-25,-20,-18,-15,-12,-10,-8,-12,-10,12,5,0,-5,-8,-5,-2,-5,-8,-5,-3],
  [3,5,8,5,2,0,-2,0,3,5,2,0,-2,0,2,5,0,-5,-10,-18,-25,-30,-35,-40,-42,-38,-35,-32,-30,-25,-20,-18,-15,-18,-20,-15,-12,-15,-18,-15,-12,-10,-12,-15,-12,-10,-8,-10,-8],
  [-10,-12,-15,-18,-15,-12,-10,-8,-10,-12,-15,-10,-8,-5,-8,-10,-8,-12,-18,-25,-32,-40,-48,-52,-55,-58,-55,-50,-45,-40,-35,-30,-28,-25,-22,-20,-18,-20,-22,-18,-15,-12,-15,-18,-15,-12,-15,-18,-20],
  [2,0,5,8,12,18,20,22,15,18,20,15,12,10,8,5,2,-5,5,10,-5,-15,-25,-35,-40,-38,-35,-30,-28,-25,-22,-20,-18,-15,-18,-20,-18,-15,-12,-15,-18,-15,-12,-10,-8,-5,-8,-10,-12]
];
const symMean5 = [-6,-6,-6,-7,-7,-6,-5,-4,-3,-2, -2,-1,-1,-1,-1,0,1,0,0,-1, -1,-1,-1,0,1,0,-1,-2,-2,-2,
  -3,-3,-2,-3,-5,-8,-10,-13,-15,-18, -20,-22,-24,-27,-30,-33,-36,-38,-39,-40, -40,-40,-40,-39,-38,-37,-37,-37,-36,-34,
  -32,-29,-27,-25,-24,-23,-22,-21,-20,-19, -18,-18,-18,-17,-17,-17,-17,-16,-16,-15, -15,-14,-13,-13,-13,-14,-15,-15,-14,-13,
  -12,-12,-11,-11,-12,-12, -12];

// ---------- growth phase 10-12 h ----------
const pcRuns6 = [
  [6.4,5.0,4.2,2.5,1.5,1.0,2.0,1.5,0.8,1.2,0.5,1.0,0.8,1.5,1.0,0.8,1.5,3.0,7.0,4.5,3.5,5.0,7.2,4.5,3.8,4.8,5.3,3.5,2.0,0.5,-2.0,-1.5,0.5,0.8,0.5,0.3,0.5,0.8,0.5,1.2,1.5,1.0,0.8,1.2,1.5,1.0,0.8,1.5,4.8],
  [0.2,-0.5,0.0,0.5,-0.3,-1.2,-0.5,0.0,0.3,0.0,-0.3,0.2,0.0,-0.5,0.2,0.5,2.0,2.5,3.0,2.8,2.5,3.0,2.8,2.2,2.5,2.8,2.5,2.0,1.5,1.0,0.5,0.2,0.0,-0.3,-0.5,-0.2,-0.5,-1.0,-0.8,-0.5,-0.8,-0.5,-0.3,-0.5,-0.8,-0.5,-0.3,-0.2,-0.1],
  [1.5,0.5,2.5,3.5,2.0,1.5,2.8,1.5,1.0,2.0,2.7,1.5,1.0,0.5,2.0,1.5,1.8,3.5,6.0,4.0,3.0,3.5,6.5,3.8,4.0,5.0,4.0,3.0,2.5,2.0,1.0,2.8,2.0,1.5,1.2,0.8,1.0,1.5,2.5,3.0,3.7,3.5,3.8,2.5,2.0,1.5,1.8,2.5,2.2],
  [0.8,0.2,0.5,1.0,0.5,0.0,0.5,0.8,0.2,0.5,0.0,0.3,0.5,-0.2,0.5,0.8,1.5,2.2,3.0,3.2,2.8,3.5,3.0,2.5,3.0,3.5,3.2,2.8,1.5,0.8,0.5,0.3,0.0,0.5,0.2,-0.3,0.0,-0.5,-0.3,-0.6,-0.8,-0.5,-0.3,0.0,0.2,-0.2,0.5,0.3,0.0],
  [1.0,1.5,0.8,1.2,0.5,1.0,1.5,2.0,1.2,0.8,1.0,0.5,1.2,0.8,1.0,1.5,2.5,4.5,5.5,3.5,3.0,4.0,5.0,4.0,4.5,3.5,3.0,2.5,2.0,1.5,1.2,2.0,1.5,1.0,1.5,1.8,1.2,2.8,1.5,1.0,1.5,2.0,2.5,3.5,3.0,2.0,1.5,2.0,1.8],
  [0.5,-0.5,0.0,0.5,1.5,0.5,0.0,0.5,1.0,0.5,0.2,-0.5,0.0,0.8,-0.5,0.3,1.2,2.5,2.8,3.0,2.5,2.0,2.5,2.8,2.2,2.5,2.0,1.5,0.5,0.0,-0.5,0.0,0.5,0.2,-0.3,-0.5,-0.8,-1.0,-0.5,-0.3,0.0,0.5,0.2,-0.3,0.0,0.5,0.8,0.5,0.3],
  [1.8,1.0,0.8,1.5,2.0,1.5,1.0,1.5,2.5,1.8,1.2,1.5,1.0,1.8,2.5,1.2,2.2,4.0,4.5,3.8,3.5,4.5,5.5,4.8,4.5,5.0,4.5,3.8,2.5,1.5,0.8,1.5,2.5,1.8,1.2,1.0,1.5,2.0,1.5,1.8,2.5,1.8,1.5,2.0,2.2,1.5,1.8,2.0,2.5]
];
const pcMean6 = [2.1,1.6,1.2,1.1,1.1,1.0,1.1,0.9,0.8,0.7, 0.6,0.6,0.6,0.5,0.5,0.7,0.9,0.9,0.9,0.9, 0.9,0.8,0.7,0.6,0.6,0.7,0.8,0.8,0.8,0.8,
  0.8,0.9,1.1,1.9,2.3,2.6,3.6,3.5,3.1,2.7, 2.6,3.1,3.8,4.0,3.6,3.2,3.7,3.5,3.6,3.3, 3.0,3.4,3.3,2.8,2.2,1.6,1.0,0.4,0.2,0.3,
  0.5,0.7,0.8,0.9,1.0,0.8,0.7,0.6,0.5,0.5, 0.4,0.4,0.4,0.3,0.2,0.2,0.1,0.2,0.4,0.5, 0.7,0.6,0.5,0.7,0.9,1.0,1.1,1.2,1.3,1.1,
  0.8,0.8,0.8,1.0,1.4,1.3, 1.2];
const symRuns6 = [
  [15,18,20,22,18,12,5,0,-5,-2,0,5,10,15,18,15,12,10,8,10,-5,-15,-25,-35,-40,-45,-48,-50,-45,-40,-35,-30,-25,-20,-15,-10,-8,-12,-15,-10,-8,-10,-12,-15,-12,-10,-12,-10,-8],
  [-50,-55,-48,-45,-40,-38,-35,-30,-25,-20,-15,-10,-5,0,5,0,-2,-5,-10,-15,-20,-25,-35,-45,-55,-65,-55,-50,-45,-40,-38,-35,-30,-28,-25,-22,-20,-22,-25,-28,-30,-35,-38,-40,-38,-35,-38,-40,-38],
  [-15,-18,-20,-15,-10,-5,-2,0,2,5,3,0,-2,-5,-8,-10,-8,-10,-15,-20,-22,-25,-30,-35,-40,-42,-45,-48,-52,-55,-48,-40,-35,-30,-28,-25,-22,-20,-22,-25,-20,-18,-15,-18,-20,-22,-18,-15,-15],
  [-40,-42,-38,-35,-30,-28,-25,-22,-18,-15,-12,-15,-18,-20,-22,-20,-18,-20,-25,-28,-30,-35,-40,-45,-48,-50,-45,-42,-40,-38,-35,-32,-30,-28,-25,-22,-25,-28,-30,-35,-40,-50,-65,-55,-45,-40,-38,-35,-36],
  [3,0,-5,-8,-10,-5,0,5,8,10,12,10,8,5,0,-2,-5,-8,-15,-20,-25,-30,-35,-40,-45,-50,-42,-38,-35,-30,-25,-20,-15,-12,-8,-5,-8,-10,-12,-15,-12,-10,-8,-12,-15,-12,-10,-12,-8],
  [-20,-22,-18,-15,-12,-10,-12,-15,-10,-8,-5,-3,-5,-8,-5,-3,-5,-10,-15,-22,-28,-32,-35,-38,-42,-48,-52,-55,-58,-50,-42,-35,-30,-25,-22,-20,-18,-15,-18,-20,-22,-25,-20,-18,-15,-18,-20,-22,-25],
  [0,5,3,0,-5,-8,-5,0,5,10,12,15,12,10,15,18,12,10,11,8,-15,-20,-28,-35,-38,-45,-40,-38,-35,-32,-30,-28,-25,-22,-20,-18,-20,-22,-25,-22,-20,-25,-28,-30,-28,-25,-28,-30,-28]
];
const symMean6 = [-11,-11,-11,-11,-11,-9,-7,-6,-6,-6, -6,-6,-6,-6,-5,-4,-3,-2,-2,-1, -1,1,2,3,3,3,2,1,1,-1,
  -3,-4,-4,-4,-5,-6,-8,-10,-12,-15, -18,-20,-22,-24,-27,-30,-32,-34,-35,-37, -38,-38,-37,-35,-34,-35,-38,-39,-39,-38,
  -36,-33,-31,-30,-30,-29,-27,-25,-24,-22, -21,-19,-18,-18,-18,-19,-19,-20,-20,-21, -21,-21,-21,-20,-20,-21,-20,-21,-22,-21,
  -21,-21,-20,-20,-20,-19, -18];

// ---------- growth phase 12-14 h ----------
const pcRuns7 = [
  [2.0,1.5,3.1,1.5,2.3,1.0,0.5,2.0,3.0,1.5,4.4,1.5,1.0,1.8,3.4,2.0,2.5,3.0,5.3,3.0,4.5,3.5,5.5,4.0,4.7,4.5,3.8,3.5,3.2,2.5,2.0,3.5,1.5,1.0,0.8,1.0,3.1,2.0,3.0,4.5,3.5,3.0,3.2,4.3,3.5,3.6,3.0,3.8,3.1],
  [0.5,0.8,0.3,0.5,0.8,0.2,-0.9,0.5,0.8,0.3,1.0,0.5,0.8,1.2,2.0,1.5,1.8,2.8,3.2,2.8,3.5,3.0,3.5,6.7,5.5,4.5,4.0,3.5,3.0,2.5,2.2,-0.3,0.5,0.8,-0.6,0.5,1.0,1.5,0.8,0.5,0.3,0.5,0.8,0.5,0.8,1.0,1.5,1.2,0.6],
  [0.8,0.2,0.5,0.2,0.0,0.2,0.5,0.2,0.3,0.5,0.0,0.3,0.5,0.8,1.0,0.6,2.0,2.5,3.0,2.8,2.5,3.0,2.8,3.2,2.8,2.5,2.2,2.8,3.0,2.5,2.0,1.5,0.5,0.8,1.0,1.2,1.5,1.2,0.5,-0.5,-0.3,0.0,-0.2,0.3,0.5,1.0,1.5,0.8,0.2],
  [1.0,0.5,0.8,0.3,0.5,0.0,0.2,0.5,0.8,0.5,0.3,0.2,0.5,0.8,0.5,0.8,1.7,2.5,3.0,2.8,3.2,3.0,3.2,3.0,2.5,2.2,2.5,2.8,3.0,2.0,1.5,0.8,0.0,0.3,0.5,0.8,1.5,1.0,0.5,0.0,-0.3,-0.5,-0.5,-0.3,-0.5,-0.4,-0.3,-0.2,-0.1],
  [0.6,1.0,0.5,0.8,0.5,0.3,0.8,1.0,0.5,0.8,1.2,0.8,0.5,1.0,0.8,0.7,2.0,2.8,3.5,3.0,2.8,3.2,4.0,3.5,4.0,4.8,3.5,3.0,2.8,2.5,2.0,1.0,1.2,0.8,0.5,0.3,1.0,1.2,1.0,0.8,0.5,0.8,0.5,0.8,1.2,1.5,1.0,0.5,0.6]
];
const pcMean7 = [1.1,1.2,1.2,0.8,1.4,1.0,0.8,0.9,0.9,0.8, 0.7,0.5,0.3,0.6,0.8,0.8,0.9,1.4,1.4,1.1, 1.0,1.1,1.2,0.9,1.0,0.9,0.9,1.5,1.5,1.7,
  1.7,1.5,1.3,2.0,2.4,2.6,3.4,3.0,2.8,3.1, 2.8,3.0,3.4,3.5,4.3,3.8,3.9,3.7,3.5,3.4, 3.2,3.1,3.0,3.1,3.3,3.1,3.0,2.8,2.7,2.6,
  2.3,1.7,1.3,1.1,1.2,1.4,1.0,0.8,0.5,0.7, 0.9,0.8,0.7,1.2,1.9,1.6,1.2,1.0,1.0,1.2, 1.2,1.1,1.1,1.0,1.0,1.3,1.6,1.6,1.7,1.7,
  1.6,1.5,1.3,1.1,1.0,1.0, 0.9];
const symRuns7 = [
  [5,6,8,8,10,15,16,17,15,12,8,0,-2,-5,-3,-8,-5,-2,5,0,-5,-18,-40,-55,-62,-55,-45,-40,-50,-55,-45,-35,-28,-22,-20,-18,-15,-15,-18,-20,-22,-25,-28,-32,-35,-38,-42,-35,-30],
  [-5,-5,-2,0,2,5,0,-5,-10,-5,15,5,-5,-10,-12,-8,-3,0,4,-5,-12,-18,-25,-30,-38,-45,-52,-58,-55,-50,-42,-35,-28,-22,-20,-18,-5,-8,-12,-10,-8,-5,-3,-5,-8,-10,-12,-11,-12],
  [-20,-18,-15,-10,-5,-2,0,0,1,2,0,-5,-8,-10,-12,-10,-8,-12,-15,-18,-20,-25,-32,-35,-38,-40,-38,-35,-38,-40,-38,-32,-28,-22,-18,-16,-17,-15,-14,-15,-16,-14,-15,-16,-18,-20,-28,-30,-28],
  [-22,-20,-18,-15,-12,-10,-5,-3,-8,-12,-15,-10,-8,-12,-15,-12,-12,-15,-18,-20,-22,-20,-25,-32,-38,-42,-45,-40,-38,-36,-34,-30,-25,-20,-22,-18,-15,-15,-12,-10,-8,-6,-5,-6,-8,-10,-12,-14,-15],
  [-18,-20,-21,-20,-18,-20,-18,-15,-20,-22,-20,-16,-12,-10,-12,-14,-15,-18,-20,-22,-24,-28,-30,-32,-35,-33,-38,-36,-34,-37,-30,-22,-18,-18,-17,-16,-22,-18,-22,-24,-26,-28,-27,-26,-28,-27,-30,-28,-29]
];
const symMean7 = [-16,-16,-11,-11,-10,-8,-7,-6,-5,-4, -3,-3,-2,-2,-2,-2,-1,-2,-2,-1, -1,-3,-5,-6,-6,-7,-7,-8,-9,-10,
  -10,-9,-8,-10,-12,-13,-14,-15,-16,-16, -17,-19,-22,-26,-30,-33,-36,-38,-40,-41, -40,-39,-39,-40,-40,-42,-43,-44,-43,-42,
  -40,-38,-35,-33,-31,-30,-28,-26,-25,-23, -21,-21,-20,-19,-18,-18,-18,-17,-16,-17, -17,-18,-18,-18,-17,-17,-16,-17,-18,-20,
  -21,-22,-20,-20,-19,-19, -19];

// ---------- growth phase 14-16 h ----------
const pcRuns8 = [
  [0.8,1.0,1.5,2.2,1.2,2.0,1.0,1.2,1.7,1.5,1.2,1.0,1.2,0.8,3.0,1.0,1.5,3.3,3.0,4.3,2.5,1.5,3.5,2.5,2.0,1.5,2.5,3.5,3.2,3.0,5.3,4.0,2.0,2.2,2.5,1.0,0.8,1.0,0.5,0.8,0.5,0.3,0.8,0.5,0.2,0.5,0.0,0.3,1.5],
  [-0.3,0.0,0.5,0.8,0.5,0.3,0.5,0.8,0.5,0.3,0.8,0.5,0.3,0.5,1.5,1.2,1.8,2.8,2.5,2.0,1.5,0.5,0.8,2.0,1.8,0.3,2.0,3.0,3.5,3.2,3.5,4.6,1.5,1.0,0.8,1.5,0.5,0.3,0.0,0.2,-0.3,0.0,-0.2,-0.5,0.0,-0.3,-0.5,-0.2,0.0],
  [-0.5,-0.3,0.0,0.0,0.1,0.0,0.0,0.0,0.1,0.0,0.0,0.1,0.0,0.2,0.3,0.5,1.5,2.5,3.0,2.0,2.2,1.8,2.5,2.0,1.8,1.5,2.2,3.0,3.0,3.5,3.5,3.0,1.2,0.8,0.5,0.8,0.5,0.0,-0.3,0.0,-0.3,-0.5,-0.2,-0.5,-0.3,-0.5,-0.2,-0.5,-0.3],
  [0.5,0.0,0.3,0.5,0.2,0.0,0.5,0.3,0.0,0.2,0.3,0.0,-0.1,0.2,0.5,0.8,1.8,2.5,2.8,2.0,1.8,1.2,2.8,2.0,1.5,2.0,2.5,2.8,3.0,3.2,4.2,3.5,1.0,0.5,0.3,1.0,0.8,0.5,0.3,0.0,0.2,-0.2,0.0,0.3,0.0,0.1,-0.1,0.2,1.8]
];
const pcMean8 = [0.2,0.3,0.4,0.5,0.6,0.7,0.7,0.6,0.7,0.5, 0.3,0.3,0.3,0.4,0.6,0.5,0.6,0.5,0.4,0.5, 0.5,0.6,0.6,0.5,0.5,0.4,0.5,0.8,1.0,1.3,
  1.0,0.7,0.9,1.9,2.5,2.9,2.8,2.4,2.5,2.4, 1.8,1.4,2.2,2.9,2.5,2.0,1.9,1.8,1.9,1.6, 1.7,2.1,2.4,2.8,3.2,3.2,3.1,3.4,3.3,3.9,
  3.7,3.2,2.2,1.4,1.2,1.1,1.0,0.9,0.7,0.9, 1.0,0.2,0.8,0.7,0.6,0.5,0.5,0.4,0.4,0.3, 0.4,0.3,0.1,0.2,0.2,0.1,0.1,0.2,0.2,0.1,
  0.0,0.0,0.0,0.1,0.2,0.4, 0.9];
const symRuns8 = [
  [6,8,7,8,8,6,5,4,5,4,4,4,3,3,4,5,-2,-10,-20,-22,-25,-22,-18,-20,-25,-30,-28,-32,-35,-38,-40,-55,-45,-35,-28,-25,-20,-18,-15,-12,-10,-8,-5,0,5,10,15,18,22],
  [4,5,6,7,7,6,5,5,4,3,3,3,2,2,3,8,-1,-5,-18,-20,-22,-20,-15,-17,-20,-22,-20,-18,-15,-18,-25,-35,-45,-30,-20,-18,-15,-12,-10,-8,-8,-10,-12,-8,-5,-8,-10,-12,-15],
  [-5,-10,-22,-18,-15,-20,-22,-15,-10,-8,-5,-8,-12,-15,-10,-8,-5,-15,-30,-25,-22,-28,-20,-25,-30,-32,-38,-45,-50,-42,-48,-56,-40,-32,-28,-30,-25,-20,-18,-22,-25,-30,-28,-22,-18,-15,-12,-14,-12],
  [-3,-6,-8,-9,-8,-7,-8,-10,-10,-8,-6,-5,-8,-12,-15,-18,-15,-18,-20,-22,-25,-28,-30,-32,-28,-25,-22,-20,-18,-20,-25,-30,-38,-35,-30,-25,-22,-18,-15,-12,-10,-8,-10,-12,-14,-16,-14,-16,-18]
];
const symMean8 = [-1,-1,-2,-3,-5,-4,-4,-3,-3,-4, -4,-5,-5,-4,-4,-3,-3,-2,-2,-1, -1,0,0,-1,-2,-3,-3,-4,-4,-5,
  -6,-5,-5,-7,-12,-17,-21,-22,-22,-23, -23,-22,-22,-18,-21,-23,-24,-25,-26,-26, -27,-28,-29,-30,-30,-32,-34,-35,-36,-37,
  -38,-40,-41,-40,-38,-35,-32,-28,-26,-26, -26,-25,-23,-22,-20,-20,-19,-19,-18,-18, -17,-17,-16,-15,-14,-13,-11,-11,-10,-9,
  -8,-8,-7,-7,-6,-6, -4];

// ---------- panel assembly ----------
const pcRuns = [pcRuns1, pcRuns2, pcRuns3, pcRuns4, pcRuns5, pcRuns6, pcRuns7, pcRuns8];
const pcMeans = [pcMean1, pcMean2, pcMean3, pcMean4, pcMean5, pcMean6, pcMean7, pcMean8];
const symRuns = [symRuns1, symRuns2, symRuns3, symRuns4, symRuns5, symRuns6, symRuns7, symRuns8];
const symMeans = [symMean1, symMean2, symMean3, symMean4, symMean5, symMean6, symMean7, symMean8];

const svg = d3.select("#chart");
const FONT = "'Liberation Sans', Arial, sans-serif";
const colLeft = [60, 469.3, 878.3, 1286.7];
const plotW = 341.4;
const rowLayout = [
  { pcTop: 43.3, pcBottom: 238.3, symTop: 271, symBottom: 466, titleY: 26.5, xTitleY: 505,
    titleX: [220, 613, 1026, 1401], xTitleX: [224, 617.6, 1007, 1389],
    span: hoursShort, ticks: xTicksShort, pcLabelY: 122, symLabelY: 351 },
  { pcTop: 563.3, pcBottom: 757.3, symTop: 791, symBottom: 985.3, titleY: 546.5, xTitleY: 1024,
    titleX: [226, 621, 1011, 1401], xTitleX: [227.5, 618.6, 1004, 1390],
    span: hoursLong, ticks: xTicksLong, pcLabelY: 647, symLabelY: 872 }
];

let clipCount = 0;
function drawPanel(opt) {
  const { x0, top, bottom, span, xTicks, yDomain, yTicks, yMinorStep, runs, mean, kind, heavyZero } = opt;
  const x = d3.scaleLinear().domain(span).range([x0, x0 + plotW]);
  const y = d3.scaleLinear().domain(yDomain).range([bottom, top]);
  const g = svg.append("g");
  const clipId = "clip" + (clipCount++);
  svg.append("clipPath").attr("id", clipId)
    .append("rect").attr("x", x0).attr("y", top).attr("width", plotW).attr("height", bottom - top);
  const plot = g.append("g").attr("clip-path", `url(#${clipId})`);

  const pathFor = vals => {
    const step = (span[1] - span[0]) / (vals.length - 1);
    return d3.line()
      .x((d, i) => x(span[0] + i * step))
      .y(d => y(d))
      .curve(d3.curveCatmullRom.alpha(0.5))(vals);
  };

  runs.forEach(r => {
    plot.append("path").attr("d", pathFor(r))
      .attr("fill", "none").attr("stroke", "#ff0000").attr("stroke-width", 1);
  });

  // reference lines: threshold for PC, zero level for SymH, and storm onset
  if (kind === "pc") {
    plot.append("line").attr("x1", x0).attr("x2", x0 + plotW)
      .attr("y1", y(pcThreshold)).attr("y2", y(pcThreshold))
      .attr("stroke", "#000").attr("stroke-width", 1.1).attr("stroke-dasharray", "3,2");
  } else {
    plot.append("line").attr("x1", x0).attr("x2", x0 + plotW)
      .attr("y1", y(0)).attr("y2", y(0))
      .attr("stroke", "#000").attr("stroke-width", 1);
  }
  plot.append("line").attr("x1", x(0)).attr("x2", x(0)).attr("y1", top).attr("y2", bottom)
    .attr("stroke", heavyZero ? "#555" : "#000").attr("stroke-width", heavyZero ? 2 : 1);

  plot.append("path").attr("d", pathFor(mean))
    .attr("fill", "none").attr("stroke", "#000").attr("stroke-width", 2);

  // frame
  g.append("rect").attr("x", x0).attr("y", top).attr("width", plotW).attr("height", bottom - top)
    .attr("fill", "none").attr("stroke", "#000").attr("stroke-width", 1);

  // x axis: labelled ticks and hourly minor ticks
  const hourly = d3.range(span[0], span[1] + 1, 1).filter(h => !xTicks.includes(h));
  const xa = g.append("g").attr("transform", `translate(0,${bottom})`)
    .call(d3.axisBottom(x).tickValues(xTicks).tickSize(4).tickPadding(2).tickFormat(d => String(d)));
  g.append("g").attr("transform", `translate(0,${bottom})`)
    .call(d3.axisBottom(x).tickValues(hourly).tickSize(2.5).tickFormat(""))
    .call(a => a.select(".domain").remove());
  xa.select(".domain").remove();

  // y axis
  const minor = d3.range(yDomain[0], yDomain[1] + 0.001, yMinorStep)
    .filter(v => !yTicks.includes(v) && v >= yDomain[0]);
  const ya = g.append("g").attr("transform", `translate(${x0},0)`)
    .call(d3.axisLeft(y).tickValues(yTicks).tickSize(4).tickPadding(3).tickFormat(d => String(d)));
  g.append("g").attr("transform", `translate(${x0},0)`)
    .call(d3.axisLeft(y).tickValues(minor).tickSize(2.5).tickFormat(""))
    .call(a => a.select(".domain").remove());
  ya.select(".domain").remove();

  g.selectAll(".tick text").attr("font-family", FONT).attr("font-size", 10).attr("fill", "#333");
  g.selectAll(".tick line").attr("stroke", "#000");
}

for (let p = 0; p < 8; p++) {
  const row = Math.floor(p / 4), col = p % 4;
  const L = rowLayout[row];
  const x0 = colLeft[col];
  const heavyZero = row === 1 && col < 3;

  drawPanel({ x0, top: L.pcTop, bottom: L.pcBottom, span: L.span, xTicks: L.ticks,
    yDomain: pcDomain, yTicks: pcTicks, yMinorStep: 1, runs: pcRuns[p], mean: pcMeans[p], kind: "pc", heavyZero });
  drawPanel({ x0, top: L.symTop, bottom: L.symBottom, span: L.span, xTicks: L.ticks,
    yDomain: symDomain, yTicks: symTicks, yMinorStep: 10, runs: symRuns[p], mean: symMeans[p], kind: "sym", heavyZero });

  svg.append("text").attr("x", L.titleX[col]).attr("y", L.titleY)
    .attr("text-anchor", "middle").attr("font-family", FONT).attr("font-weight", "bold")
    .attr("font-size", 24).attr("letter-spacing", 0.5).attr("xml:space", "preserve")
    .style("white-space", "pre").text(titles[p]);

  svg.append("text").attr("x", L.xTitleX[col]).attr("y", L.xTitleY)
    .attr("text-anchor", "middle").attr("font-family", FONT).attr("font-size", 20)
    .attr("xml:space", "preserve").style("white-space", "pre").text(xAxisTitles[p]);

  if (col === 0) {
    svg.append("text").attr("transform", `translate(25,${L.pcLabelY}) rotate(-90)`)
      .attr("text-anchor", "middle").attr("font-family", FONT).attr("font-size", 15)
      .attr("xml:space", "preserve").style("white-space", "pre").text(pcAxisTitles[row]);
    svg.append("text").attr("transform", `translate(25,${L.symLabelY}) rotate(-90)`)
      .attr("text-anchor", "middle").attr("font-family", FONT).attr("font-size", 15)
      .attr("xml:space", "preserve").style("white-space", "pre").text(symAxisTitle);
  }
}
</script>
</body>
</html>
